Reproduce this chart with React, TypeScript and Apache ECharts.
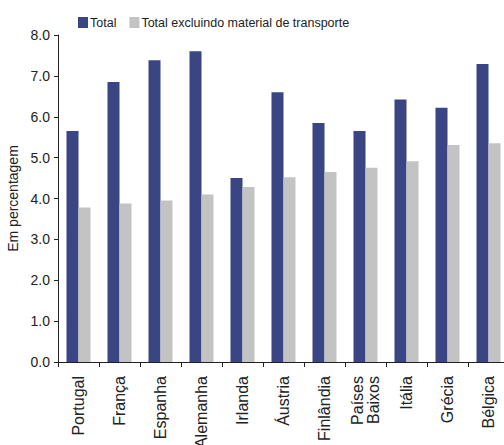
import React, { useEffect, useRef } from "react";
import * as echarts from "echarts";

const categories = [
  "Portugal",
  "França",
  "Espanha",
  "Alemanha",
  "Irlanda",
  "Áustria",
  "Finlândia",
  "Países\nBaixos",
  "Itália",
  "Grécia",
  "Bélgica",
];
const totalValues = [5.65, 6.85, 7.38, 7.6, 4.5, 6.6, 5.85, 5.65, 6.42, 6.22, 7.29];
const exclValues = [3.78, 3.88, 3.95, 4.1, 4.28, 4.52, 4.65, 4.75, 4.91, 5.31, 5.35];
const seriesNames = ["Total", "Total excluindo material de transporte"];
const yTicks = { min: 0, max: 8, interval: 1 };

export default function App() {
  const ref = useRef<HTMLDivElement>(null);
  useEffect(() => {
    if (!ref.current) return;
    const chart = echarts.init(ref.current, null, { renderer: "svg" });
    const font = "'Liberation Sans', Arial, sans-serif";
    const narrow = "'Liberation Sans Narrow', 'Arial Narrow', 'Liberation Sans', sans-serif";
    chart.setOption({
      animation: false,
      backgroundColor: "#ffffff",
      legend: {
        top: 11,
        left: 73,
        itemWidth: 10,
        itemHeight: 11,
        itemGap: 13,
        icon: "rect",
        textStyle: { fontFamily: narrow, fontSize: 12.5, color: "#222", padding: [0, 0, 0, -3] },
        data: seriesNames,
      },
      grid: {
        left: 58,
        top: 35,
        width: 451,
        height: 327,
        containLabel: false,
        outerBoundsMode: "none",
      },
      xAxis: {
        type: "category",
        data: categories,
        axisLine: { lineStyle: { color: "#222", width: 1 } },
        axisTick: { show: true, length: 5, alignWithLabel: false, lineStyle: { color: "#222" } },
        axisLabel: {
          rotate: 90,
          interval: 0,
          margin: 14,
          fontFamily: font,
          fontSize: 16,
          color: "#222",
          lineHeight: 16,
          align: "right",
          verticalAlign: "middle",
        },
      },
      yAxis: {
        type: "value",
        min: yTicks.min,
        max: yTicks.max,
        interval: yTicks.interval,
        name: "Em percentagem",
        nameLocation: "middle",
        nameRotate: 90,
        nameGap: 31,
        nameTextStyle: { fontFamily: font, fontSize: 14, color: "#222" },
        splitLine: { show: false },
        axisLine: { show: true, lineStyle: { color: "#222", width: 1 } },
        axisTick: { show: true, length: 4, lineStyle: { color: "#222" } },
        axisLabel: {
          margin: 8,
          fontFamily: font,
          fontSize: 14,
          color: "#222",
          formatter: (v: number) => v.toFixed(1),
        },
      },
      series: [
        {
          name: seriesNames[0],
          type: "bar",
          data: totalValues,
          barWidth: 12,
          barGap: "0%",
          itemStyle: { color: "#394683" },
        },
        {
          name: seriesNames[1],
          type: "bar",
          data: exclValues,
          barWidth: 12,
          itemStyle: { color: "#c3c3c3" },
        },
      ],
    });
    return () => chart.dispose();
  }, []);
  return (
    <div
      ref={ref}
      style={{ position: "absolute", left: 0, top: 0, width: 504, height: 445, overflow: "hidden" }}
    />
  );
}
